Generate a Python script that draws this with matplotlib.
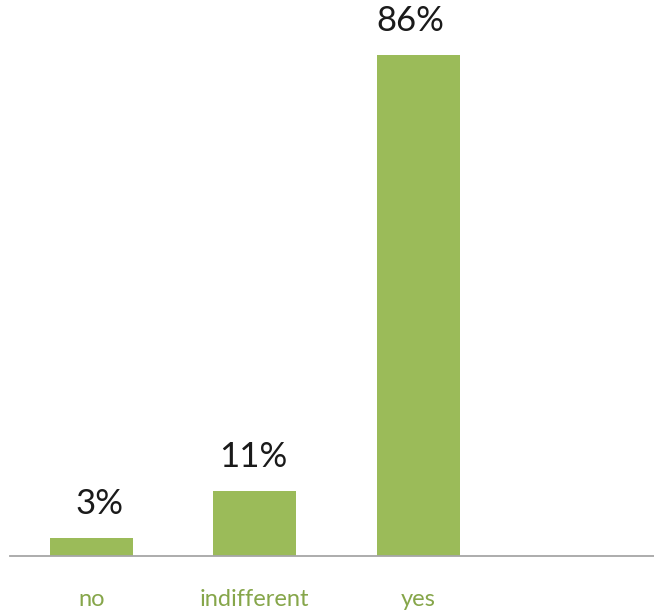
import matplotlib
matplotlib.use("Agg")
import matplotlib.pyplot as plt

categories = ["no", "indifferent", "yes", ""]
values = [3, 11, 86]
labels = ["3%", "11%", "86%"]

bar_color = "#9bbb59"
label_offsets = [8, -2, -8]  # pixel nudges of the data labels

plt.rcParams["font.family"] = ["Lato", "DejaVu Sans"]

fig = plt.figure(figsize=(6.54, 6.11), dpi=100)
ax = fig.add_axes([9.5 / 654, 55.5 / 611, 654 / 654, 553 / 611])

x = list(range(len(values)))
ax.bar(x, values, width=0.51, color=bar_color, zorder=2)

for xi, v, lab, dx in zip(x, values, labels, label_offsets):
    ax.annotate(lab, (xi, v), xytext=(dx * 0.72, 13), textcoords="offset points",
                ha="center", va="bottom", fontsize=25, color="#1a1a1a")

ax.set_xlim(-0.5, 3.5)
ax.set_ylim(0, 95)
ax.set_xticks(range(len(categories)))
ax.set_xticklabels(categories, fontsize=17, color="#86a64a")
ax.tick_params(axis="x", length=0, pad=24)
ax.set_yticks([])
for side in ["top", "right", "left"]:
    ax.spines[side].set_visible(False)
ax.spines["bottom"].set_color("#a6a6a6")
ax.spines["bottom"].set_linewidth(1.3)
ax.set_facecolor("none")

fig.savefig("out.png", dpi=100)
